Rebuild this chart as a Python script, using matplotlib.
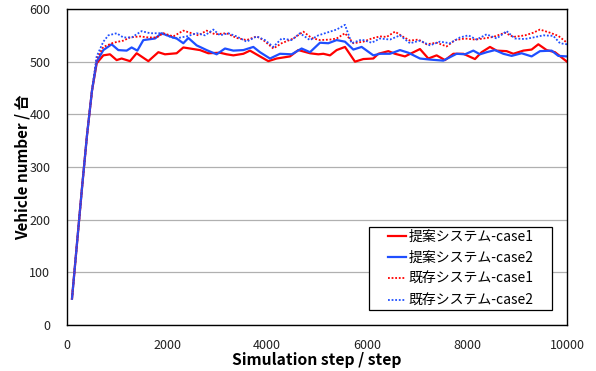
import matplotlib.pyplot as plt
from matplotlib.patches import Rectangle
import numpy as np

plt.rcParams['font.family'] = ['Noto Sans CJK JP', 'DejaVu Sans']

# common start-up part (all four runs overlap here)
rise_step = [100, 200, 300, 400, 500]
rise_val = [50, 155, 260, 360, 445]

# proposed system, case1 (red solid)
p1_step = [594, 727, 860, 993, 1093, 1260, 1393, 1627, 1827, 1960, 2193, 2327, 2660, 2827,
           3060, 3193, 3327, 3527, 3660, 3860, 4027, 4193, 4460, 4627, 4860, 5027, 5127,
           5260, 5393, 5560, 5760, 5927, 6127, 6227, 6427, 6560, 6760, 7060, 7227, 7393,
           7560, 7727, 7927, 8160, 8293, 8460, 8593, 8793, 8927, 9127, 9293, 9427, 9593,
           9760, 10000]
p1_val = [497, 512, 514, 503, 506, 501, 516, 501, 518, 514, 516, 527, 522, 516,
          517, 514, 512, 515, 521, 510, 501, 506, 510, 522, 516, 514, 515,
          512, 522, 528, 500, 505, 506, 515, 520, 515, 510, 524, 506, 512,
          503, 515, 515, 505, 518, 528, 521, 520, 515, 521, 523, 533, 522,
          518, 500]

# proposed system, case2 (blue solid)
p2_step = [594, 727, 893, 1027, 1193, 1293, 1407, 1527, 1760, 1893, 2060, 2193, 2327, 2427,
           2593, 2793, 2993, 3160, 3327, 3527, 3727, 3860, 4060, 4260, 4493, 4693, 4860,
           5060, 5227, 5393, 5560, 5727, 5893, 6127, 6260, 6460, 6660, 6827, 7060, 7260,
           7527, 7793, 7960, 8127, 8260, 8393, 8560, 8727, 8893, 9093, 9293, 9460, 9693,
           9827, 10000]
p2_val = [500, 522, 533, 522, 521, 527, 521, 541, 544, 554, 548, 544, 535, 545,
          531, 522, 514, 525, 521, 522, 528, 518, 506, 515, 514, 525, 518,
          536, 535, 541, 538, 523, 528, 512, 515, 515, 522, 517, 506, 504,
          502, 515, 514, 521, 514, 518, 522, 515, 511, 516, 510, 520, 521,
          511, 510]

# existing system, case1 (red dotted)
e1_step = [594, 727, 927, 1127, 1260, 1460, 1627, 1793, 1927, 2127, 2327, 2493, 2627, 2793,
           2960, 3193, 3393, 3593, 3793, 3927, 4127, 4293, 4527, 4727, 4893, 5060, 5260,
           5393, 5560, 5727, 5927, 6093, 6260, 6393, 6560, 6727, 6860, 7027, 7193, 7393,
           7593, 7760, 7960, 8160, 8327, 8527, 8760, 8927, 9160, 9327, 9460, 9660, 9827,
           10000]
e1_val = [506, 528, 536, 540, 546, 548, 546, 546, 554, 548, 559, 554, 550, 559,
          552, 554, 545, 541, 548, 541, 525, 535, 544, 557, 545, 541, 542,
          544, 554, 535, 538, 544, 548, 547, 557, 547, 540, 542, 533, 536,
          529, 541, 544, 542, 544, 547, 555, 547, 550, 555, 561, 555, 549,
          536]

# existing system, case2 (blue dotted)
e2_step = [594, 727, 827, 993, 1127, 1293, 1493, 1660, 1860, 1993, 2160, 2393, 2593, 2760,
           2927, 3060, 3227, 3393, 3593, 3793, 3960, 4127, 4293, 4493, 4660, 4860, 5027,
           5193, 5393, 5560, 5693, 5893, 6093, 6260, 6460, 6660, 6860, 7060, 7260, 7460,
           7660, 7860, 8027, 8193, 8393, 8593, 8793, 8960, 9160, 9327, 9527, 9727, 9860,
           10000]
e2_val = [510, 538, 550, 554, 546, 546, 558, 554, 554, 550, 544, 548, 554, 550,
          561, 550, 554, 548, 538, 548, 541, 528, 544, 541, 554, 541, 550,
          555, 561, 570, 535, 542, 536, 544, 542, 550, 535, 540, 531, 538,
          535, 546, 550, 542, 552, 544, 558, 544, 543, 546, 550, 549, 535,
          533]

labels = ['提案システム-case1', '提案システム-case2', '既存システム-case1', '既存システム-case2']

fig = plt.figure(figsize=(5.96, 3.71), dpi=100)
ax = fig.add_axes([0.1124, 0.124, 0.8389, 0.8517])

def full(s, v):
    return rise_step + s, rise_val + v

x, y = full(p1_step, p1_val)
ax.plot(x, y, color='#ff0000', lw=1.6, label=labels[0])
x, y = full(p2_step, p2_val)
ax.plot(x, y, color='#1f4fff', lw=1.6, label=labels[1])
x, y = full(e1_step, e1_val)
ax.plot(x, y, color='#ff0000', lw=1.3, ls=(0, (1, 1)), label=labels[2])
x, y = full(e2_step, e2_val)
ax.plot(x, y, color='#1f4fff', lw=1.3, ls=(0, (1, 1)), label=labels[3])

ax.set_xlim(0, 10000)
ax.set_ylim(0, 600)
ax.set_xticks(np.arange(0, 10001, 2000))
ax.set_yticks(np.arange(0, 601, 100))
ax.tick_params(length=0, labelsize=9, colors='#222222')
ax.tick_params(axis='x', pad=10)
ax.tick_params(axis='y', pad=12)
ax.yaxis.grid(True, color='#b0b0b0', lw=0.9)
ax.set_axisbelow(True)
for sp in ax.spines.values():
    sp.set_color('black')
    sp.set_linewidth(1.0)

ax.set_xlabel('Simulation step / step', fontsize=11.3, fontweight='bold', labelpad=0)
ax.set_ylabel('Vehicle number / 台', fontsize=11, fontweight='bold', labelpad=-1)

# legend box is wider than its content (Excel style), so frame drawn separately
box = Rectangle((0.604, 0.047), 0.367, 0.264, transform=ax.transAxes,
                facecolor='white', edgecolor='black', lw=0.9, zorder=4.5)
ax.add_patch(box)
leg = ax.legend(loc='center', bbox_to_anchor=(0.7875, 0.179), fontsize=10,
                handlelength=1.25, handletextpad=0.2, labelspacing=0.53,
                frameon=False, borderpad=0)

fig.savefig('out.png', dpi=100)
